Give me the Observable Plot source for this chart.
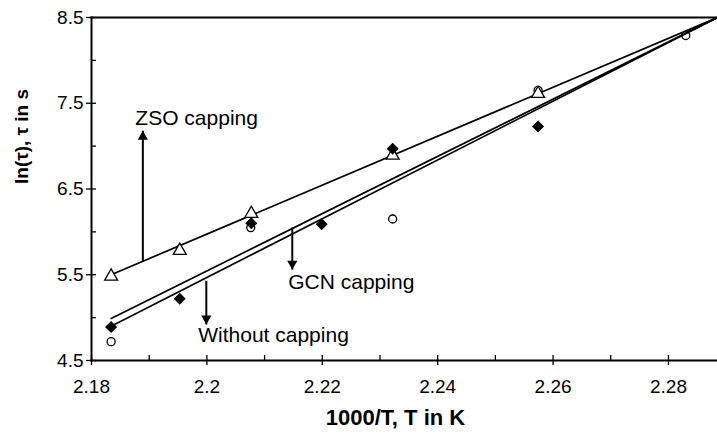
<!DOCTYPE html>
<html>
<head>
<meta charset="utf-8">
<script src="https://cdn.jsdelivr.net/npm/d3@7"></script>
<script src="https://cdn.jsdelivr.net/npm/@observablehq/plot@0.6"></script>
<style>
  html, body { margin: 0; padding: 0; background: #fff; }
  #chart svg { display: block; }
</style>
</head>
<body>
<div id="chart"></div>
<script>
// Axis ticks
const xMajor = [2.18, 2.20, 2.22, 2.24, 2.26, 2.28];
const xMinor = [2.19, 2.21, 2.23, 2.25, 2.27];
const yMajor = [4.5, 5.5, 6.5, 7.5, 8.5];
const yMinor = [5, 6, 7, 8];
const xLabel = "1000/T, T in K";
const yLabel = "ln(\u03c4), \u03c4 in s";

// ZSO capping (open triangles)
const zsoX = [2.1834, 2.1953, 2.2077, 2.2322, 2.2574];
const zsoY = [5.47, 5.77, 6.20, 6.88, 7.60];
// GCN capping (open circles)
const gcnX = [2.1834, 2.2076, 2.2322, 2.2574, 2.2830];
const gcnY = [4.72, 6.05, 6.15, 7.65, 8.29];
// Without capping (filled diamonds)
const noneX = [2.1834, 2.1953, 2.2077, 2.2199, 2.2322, 2.2574];
const noneY = [4.89, 5.22, 6.10, 6.09, 6.97, 7.23];

// Fitted lines (end values)
const fitX = [2.1834, 2.2885];
const zsoFit = [5.50, 8.50];
const gcnFit = [4.99, 8.50];
const noneFit = [4.90, 8.50];

// Annotations
const annoNames = ["ZSO capping", "GCN capping", "Without capping"];
const annoTextX = [2.1876, 2.2141, 2.1985];
const annoTextY = [7.33, 5.41, 4.79];
const arrowX = [2.1889, 2.2148, 2.1999];
const arrowFrom = [5.655, 6.05, 5.43];
const arrowTo = [7.18, 5.56, 4.92];

const toPts = (xs, ys) => xs.map((x, i) => ({x, y: ys[i]}));
const zso = toPts(zsoX, zsoY);
const gcn = toPts(gcnX, gcnY);
const none = toPts(noneX, noneY);
const fits = [zsoFit, gcnFit, noneFit].map(f => toPts(fitX, f));
const annos = annoNames.map((name, i) => ({
  name, tx: annoTextX[i], ty: annoTextY[i], ax: arrowX[i], y1: arrowFrom[i], y2: arrowTo[i],
  up: arrowTo[i] > arrowFrom[i]
}));

const font = "Liberation Sans, Arial, Helvetica, sans-serif";
const fmtX = d => String(+d.toFixed(2));

const chart = Plot.plot({
  width: 717,
  height: 446,
  marginLeft: 91,
  marginRight: 0,
  marginTop: 17,
  marginBottom: 86,
  style: {fontFamily: font, background: "#fff", color: "#000"},
  x: {domain: [2.18, 2.2885]},
  y: {domain: [4.5, 8.5]},
  marks: [
    // frame sides
    Plot.frame({anchor: "top", stroke: "#000", strokeWidth: 2}),
    Plot.frame({anchor: "left", stroke: "#000", strokeWidth: 2}),
    Plot.frame({anchor: "bottom", stroke: "#000", strokeWidth: 2}),
    // axes
    Plot.axisX({ticks: xMajor, tickFormat: fmtX, tickSize: 5, tickPadding: 14, fontSize: 19, label: null, strokeWidth: 1.3}),
    Plot.axisX({ticks: xMajor.concat(xMinor), tickFormat: () => "", tickSize: -5, label: null, strokeWidth: 1.3}),
    Plot.axisY({ticks: yMajor, tickFormat: d3.format(".1f"), tickSize: 5, tickPadding: 3, fontSize: 19, label: null, strokeWidth: 1.3}),
    Plot.axisY({ticks: yMajor.concat(yMinor), tickFormat: () => "", tickSize: -5, label: null, strokeWidth: 1.3}),
    // axis titles
    Plot.text([xLabel], {frameAnchor: "bottom", dx: -9, dy: 64, text: d => d, fontSize: 22, fontWeight: "bold", fill: "#000"}),
    Plot.text([yLabel], {frameAnchor: "left", dx: -70, dy: -5, rotate: -90, text: d => d, fontSize: 19, fontWeight: "bold", fill: "#000"}),
    // fitted lines
    ...fits.map(f => Plot.line(f, {x: "x", y: "y", stroke: "#000", strokeWidth: 1.7})),
    // data points
    Plot.dot(gcn, {x: "x", y: "y", r: 4, stroke: "#000", strokeWidth: 1.3, fill: "none"}),
    Plot.dot(zso, {x: "x", y: "y", symbol: "triangle", r: 4.8, stroke: "#000", strokeWidth: 1.3, fill: "#fff", dy: -1}),
    Plot.dot(none, {x: "x", y: "y", symbol: "diamond2", r: 5.4, fill: "#000", stroke: "none"}),
    // arrows
    Plot.link(annos, {x1: "ax", y1: "y1", x2: "ax", y2: "y2", stroke: "#000", strokeWidth: 2}),
    Plot.dot(annos.filter(a => a.up), {x: "ax", y: "y2", symbol: "triangle", r: 3.8, fill: "#000", stroke: "none", dy: 6}),
    Plot.dot(annos.filter(a => !a.up), {x: "ax", y: "y2", symbol: "triangle", r: 3.8, fill: "#000", stroke: "none", rotate: 180, dy: -6}),
    Plot.text(annos, {x: "tx", y: "ty", text: "name", textAnchor: "start", fontSize: 21, fill: "#000"})
  ]
});
document.getElementById("chart").appendChild(chart);
</script>
</body>
</html>
